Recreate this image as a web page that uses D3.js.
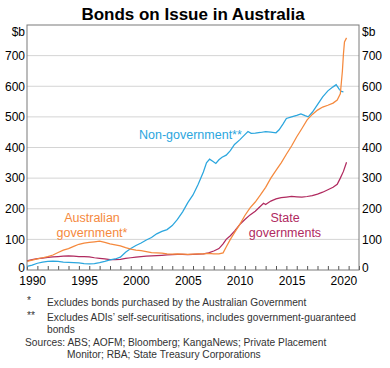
<!DOCTYPE html>
<html>
<head>
<meta charset="utf-8">
<script src="https://cdn.jsdelivr.net/npm/d3@7"></script>
<style>
  body { margin: 0; background: #fff; }
  text { font-family: "Liberation Sans", Arial, sans-serif; }
</style>
</head>
<body>
<div id="chart"></div>
<script>

// [year, $b]
const nonGovernment = [
    [1990.0, 12], [1990.5, 16], [1991.0, 22], [1991.5, 26], [1992.0, 28], [1992.5, 29],
    [1993.0, 28], [1993.5, 26], [1994.0, 25], [1994.5, 24], [1995.0, 23], [1995.5, 21],
    [1996.0, 20], [1996.5, 21], [1997.0, 24], [1997.5, 28], [1998.0, 33], [1998.5, 36],
    [1999.0, 42], [1999.5, 58], [2000.0, 70], [2000.5, 80], [2001.0, 88], [2001.5, 98],
    [2002.0, 106], [2002.5, 118], [2003.0, 126], [2003.5, 132], [2004.0, 145], [2004.5, 165],
    [2005.0, 190], [2005.5, 220], [2006.0, 245], [2006.5, 280], [2007.0, 320], [2007.3, 350],
    [2007.6, 362], [2007.9, 355], [2008.2, 348], [2008.5, 360], [2008.8, 368], [2009.2, 375],
    [2009.6, 390], [2010.0, 410], [2010.5, 425], [2011.0, 442], [2011.3, 452], [2011.6, 446],
    [2012.0, 447], [2012.5, 449], [2013.0, 452], [2013.5, 450], [2014.0, 448], [2014.3, 458],
    [2014.7, 478], [2015.0, 495], [2015.5, 500], [2016.0, 505], [2016.4, 510], [2016.8, 504],
    [2017.1, 500], [2017.5, 515], [2018.0, 540], [2018.5, 565], [2019.0, 585], [2019.5, 598],
    [2019.8, 605], [2020.1, 590], [2020.3, 583], [2020.5, 582]
];

const ausGovernment = [
    [1990.0, 28], [1990.5, 32], [1991.0, 36], [1991.5, 40], [1992.0, 44], [1992.5, 49],
    [1993.0, 57], [1993.5, 65], [1994.0, 70], [1994.5, 77], [1995.0, 84], [1995.5, 88],
    [1996.0, 90], [1996.5, 92], [1997.0, 94], [1997.5, 90], [1998.0, 85], [1998.5, 82],
    [1999.0, 79], [1999.5, 73], [2000.0, 68], [2000.5, 65], [2001.0, 63], [2001.5, 60],
    [2002.0, 57], [2002.5, 56], [2003.0, 55], [2003.5, 53], [2004.0, 52], [2004.5, 53],
    [2005.0, 52], [2005.5, 51], [2006.0, 52], [2006.5, 53], [2007.0, 53], [2007.5, 54],
    [2008.0, 53], [2008.5, 53], [2008.9, 56], [2009.2, 75], [2009.6, 100], [2010.0, 122],
    [2010.5, 148], [2011.0, 178], [2011.5, 203], [2012.0, 222], [2012.5, 245], [2013.0, 270],
    [2013.5, 300], [2014.0, 325], [2014.5, 350], [2015.0, 378], [2015.5, 405], [2016.0, 435],
    [2016.5, 462], [2017.0, 490], [2017.5, 508], [2018.0, 522], [2018.5, 532], [2019.0, 538],
    [2019.5, 545], [2019.9, 555], [2020.2, 575], [2020.4, 650], [2020.5, 705], [2020.6, 745],
    [2020.8, 758]
];

const stateGovernments = [
    [1990.0, 30], [1990.5, 34], [1991.0, 37], [1991.5, 39], [1992.0, 41], [1992.5, 43],
    [1993.0, 44], [1993.5, 45], [1994.0, 46], [1994.5, 45], [1995.0, 44], [1995.5, 44],
    [1996.0, 43], [1996.5, 40], [1997.0, 38], [1997.5, 36], [1998.0, 34], [1998.5, 34],
    [1999.0, 35], [1999.5, 38], [2000.0, 40], [2000.5, 42], [2001.0, 44], [2001.5, 45],
    [2002.0, 46], [2002.5, 47], [2003.0, 48], [2003.5, 49], [2004.0, 50], [2004.5, 51],
    [2005.0, 51], [2005.5, 50], [2006.0, 51], [2006.5, 52], [2007.0, 53], [2007.5, 56],
    [2008.0, 62], [2008.5, 70], [2008.9, 85], [2009.2, 100], [2009.6, 112], [2010.0, 127],
    [2010.5, 148], [2011.0, 165], [2011.5, 180], [2012.0, 192], [2012.5, 208], [2012.8, 218],
    [2013.0, 214], [2013.5, 225], [2014.0, 232], [2014.5, 236], [2015.0, 238], [2015.5, 240],
    [2016.0, 239], [2016.5, 238], [2017.0, 240], [2017.5, 243], [2018.0, 248], [2018.5, 254],
    [2019.0, 262], [2019.5, 270], [2019.9, 280], [2020.2, 300], [2020.5, 322], [2020.8, 352]
];

const yearLabels = [1990, 1995, 2000, 2005, 2010, 2015, 2020];
const yTicks = [0, 100, 200, 300, 400, 500, 600, 700];

const footnotes = [
    {mark: "*", lines: ["Excludes bonds purchased by the Australian Government"]},
    {mark: "**", lines: ["Excludes ADIs\u2019 self-securitisations, includes government-guaranteed", "bonds"]}
];
const sources = ["Sources: ABS; AOFM; Bloomberg; KangaNews; Private Placement",
    "Monitor; RBA; State Treasury Corporations"];


const margin = {top: 25, right: 31, bottom: 98, left: 27};
const width = 390 - margin.left - margin.right;
const height = 368 - margin.top - margin.bottom;

const blue = "#2ba6de", orange = "#f5893d", maroon = "#b02a5f";

const svg = d3.select("#chart")
    .append("svg")
    .attr("width", 390)
    .attr("height", 368);

let x = d3.scaleLinear().domain([1990, 2022]).range([0, width]);
let y = d3.scaleLinear().domain([0, 800]).range([height, 0]);

const g = svg.append("g")
    .attr("transform", "translate(" + margin.left + "," + margin.top + ")");

// title
svg.append("text")
    .attr("x", 193)
    .attr("y", 20)
    .style("text-anchor", "middle")
    .style("font-size", "17px")
    .style("font-weight", "bold")
    .attr("fill", "#000")
    .text("Bonds on Issue in Australia");

// gridlines
g.selectAll(".grid")
    .data(yTicks.filter(d => d > 0))
    .enter().append("line")
    .attr("class", "grid")
    .attr("x1", 0)
    .attr("x2", width)
    .attr("y1", d => y(d))
    .attr("y2", d => y(d))
    .attr("stroke", "#d4d4d4")
    .attr("stroke-width", 1);

// year ticks pointing up from the bottom
const tickAxis = g.append("g")
    .attr("transform", "translate(0," + height + ")")
    .call(d3.axisBottom(x).tickValues(d3.range(1990, 2023)).tickSize(-4).tickFormat(""));
tickAxis.select(".domain").remove();
tickAxis.selectAll("line").attr("stroke", "#555");

// year labels, centred in the year
const xAxis = g.append("g")
    .attr("transform", "translate(0," + height + ")")
    .call(d3.axisBottom(x).tickValues(yearLabels.map(d => d + 0.5)).tickSize(0).tickPadding(6)
        .tickFormat(d => Math.floor(d)));
xAxis.select(".domain").remove();
xAxis.selectAll("text").style("font-size", "12px").attr("fill", "#000");

// y labels both sides
const yLeft = g.append("g")
    .call(d3.axisLeft(y).tickValues(yTicks).tickSize(0).tickPadding(2));
const yRight = g.append("g")
    .attr("transform", "translate(" + width + ",0)")
    .call(d3.axisRight(y).tickValues(yTicks).tickSize(0).tickPadding(3));
[yLeft, yRight].forEach(function (a) {
    a.select(".domain").remove();
    a.selectAll("text").style("font-size", "12px").attr("fill", "#000")
        .attr("dy", d => d === 0 ? "0.1em" : "0.32em");
});

g.append("text")
    .attr("x", -2)
    .attr("y", 11)
    .style("text-anchor", "end")
    .style("font-size", "12px")
    .text("$b");
g.append("text")
    .attr("x", width + 3)
    .attr("y", 11)
    .style("font-size", "12px")
    .text("$b");

// lines
let valueline = d3.line()
    .x(function (d) { return x(d[0]); })
    .y(function (d) { return y(d[1]); });

[[stateGovernments, maroon], [nonGovernment, blue], [ausGovernment, orange]].forEach(function (s) {
    g.append("path")
        .attr("class", "line")
        .attr("d", valueline(s[0]))
        .attr("fill", "none")
        .attr("stroke", s[1])
        .attr("stroke-width", 1.25);
});

// frame
g.append("rect")
    .attr("width", width)
    .attr("height", height)
    .attr("fill", "none")
    .attr("stroke", "#7a7a7a")
    .attr("stroke-width", 1);

// series labels
function label(lines, cx, cy, color, anchor) {
    const t = g.append("text")
        .attr("fill", color)
        .style("font-size", "12.5px")
        .style("text-anchor", anchor || "middle");
    lines.forEach(function (l, i) {
        t.append("tspan").attr("x", cx).attr("y", cy + i * 15).text(l);
    });
}
label(["Non-government**"], 112, 114, blue, "start");
label(["Australian", "government*"], 65, 197, orange);
label(["State", "governments"], 258, 197, maroon);

// footnotes
const notes = svg.append("g").style("font-size", "10.2px").attr("fill", "#333");
let ny = 306;
footnotes.forEach(function (f) {
    notes.append("text").attr("x", 27).attr("y", ny - 2).text(f.mark);
    f.lines.forEach(function (l) {
        notes.append("text").attr("x", 47).attr("y", ny).text(l);
        ny += 11.5;
    });
    ny += 3.5;
});
ny -= 1.5;
sources.forEach(function (l, i) {
    notes.append("text").attr("x", i === 0 ? 25 : 67).attr("y", ny).text(l);
    ny += 11.5;
});

</script>
</body>
</html>
